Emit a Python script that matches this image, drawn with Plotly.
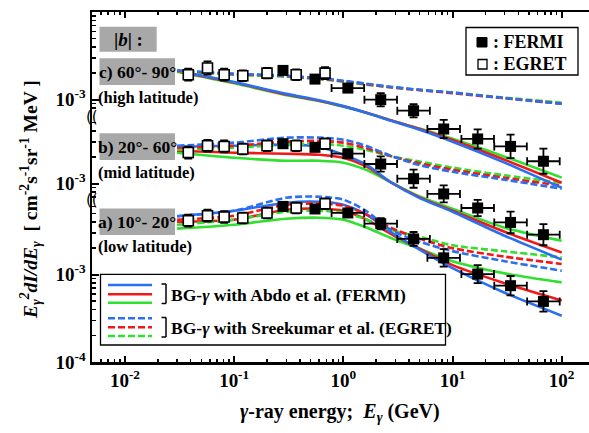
import math
import plotly.graph_objects as go

# ---------------- data ----------------
E_model = [0.03, 0.1, 0.3, 0.6, 1.0, 1.6, 2.7, 5.0, 10.0, 30.0, 100.0]
E_fermi = [0.28, 0.55, 1.1, 2.2, 4.4, 8.3, 17.0, 34.0, 68.0]
fermi_bin_factor = [1.0, 1.0, 1.41, 1.41, 1.41, 1.41, 1.41, 1.41, 1.41]
E_egret = [0.038, 0.057, 0.081, 0.12, 0.2, 0.37, 0.68]

# panel a) 10-20 deg (low latitude)
a_fermi = [6.0e-3, 5.61e-3, 5.05e-3, 3.81e-3, 2.55e-3, 1.55e-3, 1.01e-3, 7.45e-4, 4.93e-4]
a_fermi_err = [0.08, 0.08, 0.11, 0.16, 0.20, 0.26, 0.27, 0.29, 0.31]
a_egret = [4.12e-3, 4.7e-3, 4.54e-3, 4.43e-3, 5.05e-3, 5.75e-3, 6.44e-3]
a_egret_err = [0.17, 0.17, 0.17, 0.15, 0.15, 0.15, 0.15]
a_solid_blue = [4.64e-3, 5.36e-3, 6.62e-3, 6.79e-3, 6.28e-3, 4.89e-3, 3.08e-3, 1.92e-3, 1.18e-3, 6.19e-4, 3.38e-4]
a_solid_red = [4.01e-3, 4.23e-3, 5.50e-3, 5.65e-3, 5.36e-3, 4.29e-3, 2.93e-3, 1.97e-3, 1.28e-3, 7.95e-4, 5.06e-4]
a_solid_green = [3.34e-3, 3.71e-3, 4.34e-3, 4.46e-3, 4.23e-3, 3.47e-3, 2.63e-3, 1.97e-3, 1.42e-3, 1.03e-3, 8.12e-4]
a_dash_blue = [4.64e-3, 5.36e-3, 7.54e-3, 7.74e-3, 7.16e-3, 5.36e-3, 3.25e-3, 2.37e-3, 1.85e-3, 1.42e-3, 1.105e-3]
a_dash_red = [4.23e-3, 4.70e-3, 6.28e-3, 6.45e-3, 6.11e-3, 4.89e-3, 3.43e-3, 2.57e-3, 2.00e-3, 1.60e-3, 1.32e-3]
a_dash_green = [3.71e-3, 4.23e-3, 5.22e-3, 5.36e-3, 5.09e-3, 4.29e-3, 3.25e-3, 2.70e-3, 2.16e-3, 1.84e-3, 1.57e-3]

# panel b) 20-60 deg (mid latitude)
b_fermi = [2.85e-3, 2.59e-3, 2.19e-3, 1.67e-3, 1.135e-3, 7.6e-4, 5.25e-4, 3.59e-4, 2.6e-4]
b_fermi_err = [0.08, 0.08, 0.11, 0.22, 0.27, 0.25, 0.24, 0.33, 0.32]
b_egret = [2.26e-3, 2.7e-3, 2.65e-3, 2.48e-3, 2.7e-3, 2.7e-3, 2.85e-3]
b_egret_err = [0.17, 0.17, 0.17, 0.15, 0.15, 0.15, 0.15]
b_solid_blue = [2.63e-3, 2.70e-3, 2.78e-3, 2.63e-3, 2.13e-3, 1.66e-3, 1.04e-3, 6.8e-4, 4.76e-4, 2.53e-4, 1.35e-4]
b_solid_red = [2.37e-3, 2.25e-3, 2.19e-3, 2.13e-3, 1.97e-3, 1.58e-3, 1.04e-3, 6.95e-4, 4.89e-4, 2.81e-4, 1.63e-4]
b_solid_green = [2.25e-3, 1.97e-3, 1.82e-3, 1.82e-3, 1.73e-3, 1.44e-3, 1.04e-3, 7.1e-4, 5.15e-4, 3.13e-4, 2.22e-4]
b_dash_blue = [2.70e-3, 2.93e-3, 3.34e-3, 3.34e-3, 3.17e-3, 2.70e-3, 2.08e-3, 1.62e-3, 1.36e-3, 1.105e-3, 8.72e-4]
b_dash_red = [2.57e-3, 2.70e-3, 3.00e-3, 3.08e-3, 2.93e-3, 2.55e-3, 2.06e-3, 1.70e-3, 1.44e-3, 1.165e-3, 9.44e-4]
b_dash_green = [2.43e-3, 2.57e-3, 2.78e-3, 2.85e-3, 2.70e-3, 2.43e-3, 2.06e-3, 1.78e-3, 1.52e-3, 1.24e-3, 1.02e-3]

# panel c) 60-90 deg (high latitude)
c_fermi = [2.15e-3, 1.71e-3, 1.35e-3, 9.95e-4, 7.45e-4, 4.6e-4, 3.54e-4, 2.91e-4, 1.97e-4]
c_fermi_err = [0.08, 0.08, 0.10, 0.19, 0.19, 0.27, 0.29, 0.36, 0.39]
c_egret = [1.92e-3, 2.29e-3, 1.92e-3, 1.87e-3, 2.0e-3, 1.92e-3, 2.0e-3]
c_egret_err = [0.17, 0.19, 0.17, 0.15, 0.15, 0.15, 0.17]
c_solid_blue = [2.13e-3, 1.58e-3, 1.16e-3, 9.8e-4, 8.4e-4, 7.1e-4, 5.75e-4, 4.5e-4, 3.29e-4, 1.90e-4, 9.8e-5]
c_solid_red = [2.11e-3, 1.56e-3, 1.14e-3, 9.7e-4, 8.35e-4, 7.1e-4, 5.8e-4, 4.6e-4, 3.45e-4, 2.05e-4, 1.12e-4]
c_solid_green = [2.08e-3, 1.53e-3, 1.12e-3, 9.6e-4, 8.25e-4, 7.05e-4, 5.8e-4, 4.65e-4, 3.55e-4, 2.22e-4, 1.28e-4]
c_dash_blue = [2.16e-3, 1.97e-3, 1.87e-3, 1.75e-3, 1.64e-3, 1.52e-3, 1.40e-3, 1.29e-3, 1.20e-3, 1.035e-3, 8.95e-4]
c_dash_red = [2.13e-3, 1.95e-3, 1.85e-3, 1.73e-3, 1.62e-3, 1.50e-3, 1.38e-3, 1.28e-3, 1.18e-3, 1.035e-3, 8.95e-4]
c_dash_green = [2.11e-3, 1.92e-3, 1.82e-3, 1.71e-3, 1.60e-3, 1.48e-3, 1.38e-3, 1.29e-3, 1.20e-3, 1.05e-3, 9.19e-4]

# vertical stacking of the three panels on one log axis (decades)
panel_offset_dex = {"a": 0.0, "b": 1.04, "c": 2.0}

# y-axis ticks per panel (actual values)
panel_major = {"a": [1e-4, 1e-3], "b": [1e-3], "c": [1e-3, 1e-2]}
panel_minor = {
    "a": [2e-4, 3e-4, 4e-4, 5e-4, 6e-4, 7e-4, 8e-4, 9e-4, 2e-3, 3e-3, 4e-3, 5e-3, 6e-3],
    "b": [7e-4, 8e-4, 9e-4, 2e-3, 3e-3, 4e-3, 5e-3],
    "c": [8e-4, 9e-4, 2e-3, 3e-3, 4e-3, 5e-3, 6e-3, 7e-3, 8e-3, 9e-3],
}
x_tick_vals = [0.01, 0.1, 1, 10, 100]
x_tick_text = ["10<sup>-2</sup>", "10<sup>-1</sup>", "10<sup>0</sup>", "10<sup>1</sup>", "10<sup>2</sup>"]

# ---------------- styles ----------------
BLUE = "#2a6ff0"
RED = "#f01818"
GREEN = "#2fe02f"
DASH = "7px,3px"
FONT = "Liberation Serif"
LW = 2.6

panels = {
    "a": dict(fermi=a_fermi, ferr=a_fermi_err, egret=a_egret, eerr=a_egret_err,
              lines=[(a_solid_green, GREEN, "solid"), (a_solid_red, RED, "solid"), (a_solid_blue, BLUE, "solid"),
                     (a_dash_green, GREEN, DASH), (a_dash_red, RED, DASH), (a_dash_blue, BLUE, DASH)]),
    "b": dict(fermi=b_fermi, ferr=b_fermi_err, egret=b_egret, eerr=b_egret_err,
              lines=[(b_solid_green, GREEN, "solid"), (b_solid_red, RED, "solid"), (b_solid_blue, BLUE, "solid"),
                     (b_dash_green, GREEN, DASH), (b_dash_red, RED, DASH), (b_dash_blue, BLUE, DASH)]),
    "c": dict(fermi=c_fermi, ferr=c_fermi_err, egret=c_egret, eerr=c_egret_err,
              lines=[(c_solid_green, GREEN, "solid"), (c_solid_red, RED, "solid"), (c_solid_blue, BLUE, "solid"),
                     (c_dash_green, GREEN, DASH), (c_dash_red, RED, DASH), (c_dash_blue, BLUE, DASH)]),
}

fig = go.Figure()

for key, p in panels.items():
    f = 10 ** panel_offset_dex[key]
    for vals, col, dash in p["lines"]:
        fig.add_trace(go.Scatter(x=E_model, y=[v * f for v in vals], mode="lines",
                                 line=dict(color=col, width=LW, dash=dash, shape="spline", smoothing=0.8),
                                 showlegend=False, hoverinfo="skip"))

for key, p in panels.items():
    f = 10 ** panel_offset_dex[key]
    ye = [v * f for v in p["egret"]]
    fig.add_trace(go.Scatter(
        x=E_egret, y=ye, mode="markers",
        marker=dict(symbol="square", size=10, color="white", line=dict(color="black", width=1.6)),
        error_y=dict(type="data", symmetric=False,
                     array=[v * e for v, e in zip(ye, p["eerr"])],
                     arrayminus=[v * e / (1 + e) for v, e in zip(ye, p["eerr"])],
                     color="black", thickness=1.8, width=4),
        showlegend=False, hoverinfo="skip"))
    yf = [v * f for v in p["fermi"]]
    fig.add_trace(go.Scatter(
        x=E_fermi, y=yf, mode="markers",
        marker=dict(symbol="square", size=11, color="black"),
        error_y=dict(type="data", symmetric=False,
                     array=[v * e for v, e in zip(yf, p["ferr"])],
                     arrayminus=[v * e / (1 + e) for v, e in zip(yf, p["ferr"])],
                     color="black", thickness=1.8, width=4),
        error_x=dict(type="data", symmetric=False,
                     array=[x * (b - 1) for x, b in zip(E_fermi, fermi_bin_factor)],
                     arrayminus=[x * (1 - 1 / b) for x, b in zip(E_fermi, fermi_bin_factor)],
                     color="black", thickness=1.8, width=4),
        showlegend=False, hoverinfo="skip"))

# y ticks on the stacked axis
y_tick_vals, y_tick_text, y_minor = [], [], []
for key in ["a", "b", "c"]:
    f = 10 ** panel_offset_dex[key]
    for v in panel_major[key]:
        y_tick_vals.append(v * f)
        y_tick_text.append("<b>10<sup>%d</sup></b>" % round(math.log10(v)))
    y_minor += [v * f for v in panel_minor[key]]

x_minor = [k * 10 ** n for n in range(-3, 3) for k in range(2, 10)]

tickfont = dict(family=FONT, size=19, color="black")
fig.update_xaxes(type="log", range=[-2.302, 2.25], tickvals=x_tick_vals,
                 ticktext=["<b>%s</b>" % t for t in x_tick_text], tickfont=tickfont,
                 ticks="inside", ticklen=6, tickwidth=2, tickcolor="black",
                 showline=True, linewidth=2.5, linecolor="black", mirror="ticks",
                 showgrid=False, zeroline=False,
                 minor=dict(tickvals=x_minor, ticks="inside", ticklen=3, tickwidth=1.5, tickcolor="black",
                            showgrid=False))
fig.update_yaxes(type="log", range=[-4.0, 0.0], tickvals=y_tick_vals, ticktext=y_tick_text,
                 tickfont=tickfont, ticks="inside", ticklen=7, tickwidth=2, tickcolor="black",
                 showline=True, linewidth=2.5, linecolor="black", mirror=False,
                 showgrid=False, zeroline=False,
                 minor=dict(tickvals=y_minor, ticks="inside", ticklen=4, tickwidth=1.5, tickcolor="black",
                            showgrid=False))

# ---------------- decorations (pixel helpers for paper coords) ----------------
def PX(x):
    return (x - 92) / 497.0


def PY(y):
    return (362 - y) / 350.0


shapes, annots = [], []
GRAY = "#a8a8a8"


def gray_box(x0, y0, x1, y1, text, size=17.5):
    shapes.append(dict(type="rect", xref="paper", yref="paper", x0=PX(x0), x1=PX(x1), y0=PY(y1), y1=PY(y0),
                       fillcolor=GRAY, line=dict(width=0)))
    annots.append(dict(xref="paper", yref="paper", x=PX((x0 + x1) / 2), y=PY((y0 + y1) / 2), text=text,
                       showarrow=False, xanchor="center", yanchor="middle",
                       font=dict(family=FONT, size=size, color="black")))


def plain_text(x, y, text, size=15, anchor="left"):
    annots.append(dict(xref="paper", yref="paper", x=PX(x), y=PY(y), text=text, showarrow=False,
                       xanchor=anchor, yanchor="middle", font=dict(family=FONT, size=size, color="black")))


gray_box(99.5, 26.7, 156.7, 51.7, "<b>|<i>b</i>| :</b>", size=19)
gray_box(99.5, 58.3, 175, 85, "<b>c) 60°- 90°</b>")
gray_box(99.5, 133.3, 175, 160, "<b>b) 20°- 60°</b>")
gray_box(99.5, 208.5, 175, 235, "<b>a) 10°- 20°</b>")
plain_text(96, 97, "<b>(high latitude)</b>", size=16.5)
plain_text(96, 172, "<b>(mid latitude)</b>", size=16.5)
plain_text(96, 246, "<b>(low latitude)</b>", size=16.5)

# axis breaks
for yb in (117, 200):
    annots.append(dict(xref="paper", yref="paper", x=PX(92), y=PY(yb), text="((", showarrow=False,
                       xanchor="center", yanchor="middle", bgcolor="rgba(0,0,0,0)",
                       font=dict(family="DejaVu Sans", size=15, color="black")))

# top-right legend
shapes.append(dict(type="rect", xref="paper", yref="paper", x0=PX(466), x1=PX(578), y0=PY(75), y1=PY(27.5),
                   fillcolor="white", line=dict(color="black", width=1.3)))
shapes.append(dict(type="rect", xref="paper", yref="paper", x0=PX(477), x1=PX(487), y0=PY(47), y1=PY(37.5),
                   fillcolor="black", line=dict(color="black", width=1)))
shapes.append(dict(type="rect", xref="paper", yref="paper", x0=PX(478), x1=PX(487), y0=PY(69), y1=PY(59.5),
                   fillcolor="white", line=dict(color="black", width=1.3)))
plain_text(491, 42, "<b>: FERMI</b>", size=18)
plain_text(491, 64, "<b>: EGRET</b>", size=18)

# lower-left legend
shapes.append(dict(type="rect", xref="paper", yref="paper", x0=PX(100.5), x1=PX(445.5), y0=PY(345), y1=PY(274.3),
                   fillcolor="white", line=dict(color="black", width=1.3)))
for ys, col, dash in [(285, BLUE, "solid"), (294.3, RED, "solid"), (302.7, GREEN, "solid"),
                      (318.3, BLUE, DASH), (327.3, RED, DASH), (336, GREEN, DASH)]:
    shapes.append(dict(type="line", xref="paper", yref="paper", x0=PX(108), x1=PX(152), y0=PY(ys), y1=PY(ys),
                       line=dict(color=col, width=LW, dash=dash)))
for y0, y1 in [(284, 303.5), (317.5, 337)]:
    for seg in [(161.5, y0, 166, y0), (166, y0, 166, y1), (161.5, y1, 166, y1)]:
        shapes.append(dict(type="line", xref="paper", yref="paper", x0=PX(seg[0]), x1=PX(seg[2]),
                           y0=PY(seg[1]), y1=PY(seg[3]), line=dict(color="black", width=1.5)))
plain_text(169, 295, "<b>BG-<i>γ</i> with Abdo et al. (FERMI)</b>", size=17.5)
plain_text(169, 327.5, "<b>BG-<i>γ</i> with Sreekumar et al. (EGRET)</b>", size=17.5)

# axis titles
annots.append(dict(xref="paper", yref="paper", x=PX(340), y=PY(412), showarrow=False,
                   text="<b><i>γ</i>-ray energy;  <i>E<sub>γ</sub></i> (GeV)</b>",
                   xanchor="center", yanchor="middle", font=dict(family=FONT, size=20, color="black")))
annots.append(dict(xref="paper", yref="paper", x=PX(30), y=PY(200), showarrow=False, textangle=-90,
                   text="<b><i>E<sub>γ</sub><sup>2</sup>dI/dE<sub>γ</sub></i>  [ cm<sup>-2</sup>s<sup>-1</sup>sr<sup>-1</sup> MeV ]</b>",
                   xanchor="center", yanchor="middle", font=dict(family=FONT, size=19.5, color="black")))

fig.update_layout(width=589, height=433, margin=dict(l=92, r=0, t=12, b=71),
                  paper_bgcolor="white", plot_bgcolor="white", showlegend=False, hovermode=False,
                  shapes=shapes, annotations=annots, font=dict(family=FONT, color="black"))

fig.write_html("out.html", config={"displayModeBar": False, "staticPlot": True},
               post_script="document.body.style.margin='0px';document.body.style.overflow='hidden';"
                           "document.documentElement.style.overflow='hidden';")
